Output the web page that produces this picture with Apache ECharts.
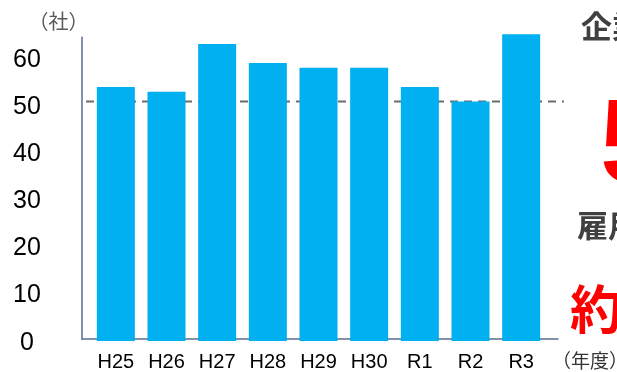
<!DOCTYPE html>
<html>
<head>
<meta charset="utf-8">
<script src="https://cdn.jsdelivr.net/npm/echarts@6/dist/echarts.min.js"></script>
<style>
html,body{margin:0;padding:0;background:#fff;}
#chart{width:617px;height:372px;}
</style>
</head>
<body>
<div id="chart"></div>
<script>
// ---- data ----
const categories = ['H25', 'H26', 'H27', 'H28', 'H29', 'H30', 'R1', 'R2', 'R3'];
const companies = [53, 52, 62, 58, 57, 57, 53, 50, 64];
const referenceValue = 50;
const yMin = 0;
const yMax = 64;
const yInterval = 10;
const yUnit = '（社）';
const xUnit = '（年度）';
const sideTexts = ['企業数', '5', '雇用者数', '約'];

const chart = echarts.init(document.getElementById('chart'), null, {renderer: 'canvas'});
const digitFont = "'Liberation Sans', Arial, sans-serif";
const cjkFont = "'Noto Sans CJK JP', 'Noto Sans', sans-serif";

chart.setOption({
  animation: false,
  backgroundColor: '#ffffff',
  grid: [
    // bars
    {left: 90.5, right: 70.5, top: 34.3, bottom: 30.5, containLabel: false},
    // axis frame
    {left: 81.7, right: 59, top: 37.3, bottom: 33.3, containLabel: false},
    // reference line
    {left: 86, right: 53, top: 34.3, bottom: 30.5, containLabel: false}
  ],
  xAxis: [
    {
      gridIndex: 0, type: 'category', data: categories,
      axisLine: {show: false}, axisTick: {show: false},
      axisLabel: {
        color: '#000', fontSize: 20, margin: 11, interval: 0,
        fontFamily: digitFont
      }
    },
    {
      gridIndex: 1, type: 'value', min: 0, max: 1,
      axisLine: {show: true, lineStyle: {color: '#5b6f8f', width: 1.5}},
      axisTick: {show: false}, axisLabel: {show: false}, splitLine: {show: false}
    },
    {
      gridIndex: 2, type: 'value', min: 0, max: 1, show: false
    }
  ],
  yAxis: [
    {gridIndex: 0, type: 'value', min: yMin, max: yMax, show: false},
    {
      gridIndex: 1, type: 'value', min: yMin, max: yMax, interval: yInterval,
      axisLine: {show: true, lineStyle: {color: '#5b6f8f', width: 1.5}},
      axisTick: {show: false}, splitLine: {show: false},
      axisLabel: {
        align: 'center', margin: 54.7, showMaxLabel: false,
        formatter: '{n|{value}}',
        rich: {
          n: {color: '#000', fontSize: 25, fontFamily: digitFont, padding: [8, 0, 0, 0]}
        }
      }
    },
    {gridIndex: 2, type: 'value', min: yMin, max: yMax, show: false}
  ],
  series: [
    {
      type: 'bar', xAxisIndex: 0, yAxisIndex: 0,
      data: companies, barCategoryGap: '25%',
      itemStyle: {color: '#00b0f0'}, z: 3
    },
    {
      type: 'line', xAxisIndex: 2, yAxisIndex: 2,
      data: [[0, referenceValue], [1, referenceValue]],
      symbol: 'none', z: 1,
      lineStyle: {color: '#6b6b6b', width: 2, type: [8, 6]}
    }
  ],
  graphic: [
    {type: 'text', left: 28.5, top: 11, style: {text: yUnit, fill: '#595959', font: "20px " + cjkFont}},
    {type: 'text', left: 552, top: 351, style: {text: xUnit, fill: '#333', font: "19px " + cjkFont}},
    {type: 'text', left: 581, top: 11, style: {text: sideTexts[0], fill: '#404040', font: "bold 31px " + cjkFont}},
    {type: 'text', left: 600, top: 90, style: {text: sideTexts[1], fill: '#ff0000', font: "bold 118px " + digitFont}},
    {type: 'text', left: 577, top: 210, style: {text: sideTexts[2], fill: '#404040', font: "bold 31px " + cjkFont}},
    {type: 'text', left: 570, top: 283, style: {text: sideTexts[3], fill: '#ff0000', font: "bold 52px " + cjkFont}}
  ]
});
</script>
</body>
</html>
